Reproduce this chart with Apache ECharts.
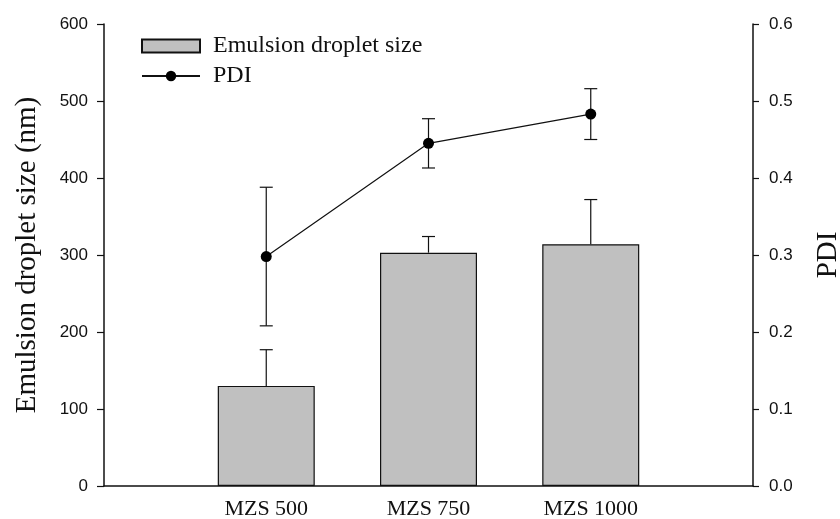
<!DOCTYPE html>
<html>
<head>
<meta charset="utf-8">
<script src="https://cdn.jsdelivr.net/npm/echarts@6/dist/echarts.min.js"></script>
<style>
  html, body { margin: 0; padding: 0; background: #fff; }
  #chart { width: 840px; height: 519px; }
</style>
</head>
<body>
<div id="chart"></div>
<script>
// Formulations and their measurements
const categories = ['MZS 500', 'MZS 750', 'MZS 1000'];
const dropletSize = [130, 303, 314];        // nm
const dropletSizeErr = [47, 21, 58];        // nm, drawn upward only
const pdi = [0.298, 0.445, 0.483];
const pdiErr = [0.090, 0.032, 0.033];

const sizeTicks = [0, 100, 200, 300, 400, 500, 600];
const pdiTicks = [0.0, 0.1, 0.2, 0.3, 0.4, 0.5, 0.6];

const SERIF = '"Liberation Serif", "Times New Roman", serif';
const SANS = '"Liberation Sans", Arial, sans-serif';
const INK = '#111';

// Vertical error bar with caps; `upOnly` skips the lower whisker
function errorBarRenderer(upOnly) {
  return function (params, api) {
    const x = api.value(0);
    const lo = api.value(1);
    const hi = api.value(2);
    const pTop = api.coord([x, hi]);
    const pBot = api.coord([x, lo]);
    const hw = 6.5;
    const style = { stroke: INK, lineWidth: 1.2 };
    const children = [
      { type: 'line', shape: { x1: pTop[0], y1: pTop[1], x2: pBot[0], y2: pBot[1] }, style },
      { type: 'line', shape: { x1: pTop[0] - hw, y1: pTop[1], x2: pTop[0] + hw, y2: pTop[1] }, style }
    ];
    if (!upOnly) {
      children.push({ type: 'line', shape: { x1: pBot[0] - hw, y1: pBot[1], x2: pBot[0] + hw, y2: pBot[1] }, style });
    }
    return { type: 'group', children };
  };
}

const sizeData = dropletSize.map((v, i) => [i + 1, v]);
const sizeErrData = dropletSize.map((v, i) => [i + 1, v, v + dropletSizeErr[i]]);
const pdiData = pdi.map((v, i) => [i + 1, v]);
const pdiErrData = pdi.map((v, i) => [i + 1, v - pdiErr[i], v + pdiErr[i]]);

const chart = echarts.init(document.getElementById('chart'), null, { renderer: 'canvas' });

chart.setOption({
  animation: false,
  backgroundColor: '#fff',
  grid: { left: 104, right: 87, top: 24, bottom: 33, containLabel: false, outerBoundsMode: 'none' },
  legend: {
    orient: 'vertical',
    left: 136,
    top: 29,
    itemWidth: 58,
    itemHeight: 13,
    itemGap: 6,
    textStyle: { fontFamily: SERIF, fontSize: 24, color: INK, padding: [0, 0, 0, 8] },
    data: [
      { name: 'Emulsion droplet size', icon: 'rect' },
      { name: 'PDI' }
    ]
  },
  xAxis: {
    type: 'value',
    min: 0,
    max: categories.length + 1,
    interval: 1,
    splitLine: { show: false },
    axisTick: { show: false },
    axisLine: { show: true, onZero: false, lineStyle: { color: INK, width: 1.5 } },
    axisLabel: {
      fontFamily: SERIF,
      fontSize: 22,
      color: INK,
      margin: 12,
      formatter: v => categories[v - 1] || ''
    }
  },
  yAxis: [
    {
      type: 'value',
      min: sizeTicks[0],
      max: sizeTicks[sizeTicks.length - 1],
      interval: 100,
      position: 'left',
      name: 'Emulsion droplet size (nm)',
      nameLocation: 'middle',
      nameRotate: 90,
      nameGap: 62,
      nameTextStyle: { fontFamily: SERIF, fontSize: 29, color: INK },
      splitLine: { show: false },
      axisLine: { show: true, lineStyle: { color: INK, width: 1.5 } },
      axisTick: { show: true, inside: false, length: 7, lineStyle: { color: INK, width: 1.2 } },
      axisLabel: { fontFamily: SANS, fontSize: 17, color: INK, margin: 16 }
    },
    {
      type: 'value',
      min: pdiTicks[0],
      max: pdiTicks[pdiTicks.length - 1],
      interval: 0.1,
      position: 'right',
      name: 'PDI',
      nameLocation: 'middle',
      nameRotate: 90,
      nameGap: 61,
      nameTextStyle: { fontFamily: SERIF, fontSize: 29, color: INK },
      splitLine: { show: false },
      axisLine: { show: true, lineStyle: { color: INK, width: 1.5 } },
      axisTick: { show: true, inside: false, length: 6, lineStyle: { color: INK, width: 1.2 } },
      axisLabel: { fontFamily: SANS, fontSize: 17, color: INK, margin: 16, formatter: v => v.toFixed(1) }
    }
  ],
  series: [
    {
      name: 'Emulsion droplet size',
      type: 'bar',
      yAxisIndex: 0,
      barWidth: 97,
      data: sizeData,
      itemStyle: { color: '#c0c0c0', borderColor: INK, borderWidth: 1.2 },
      z: 2
    },
    {
      name: 'sizeErr',
      type: 'custom',
      yAxisIndex: 0,
      renderItem: errorBarRenderer(true),
      encode: { x: 0, y: [1, 2] },
      data: sizeErrData,
      z: 3
    },
    {
      name: 'pdiErr',
      type: 'custom',
      yAxisIndex: 1,
      renderItem: errorBarRenderer(false),
      encode: { x: 0, y: [1, 2] },
      data: pdiErrData,
      z: 4
    },
    {
      name: 'PDI',
      type: 'line',
      yAxisIndex: 1,
      data: pdiData,
      symbol: 'circle',
      symbolSize: 11,
      itemStyle: { color: '#000' },
      lineStyle: { color: INK, width: 1.2 },
      z: 5
    }
  ]
});
</script>
</body>
</html>
